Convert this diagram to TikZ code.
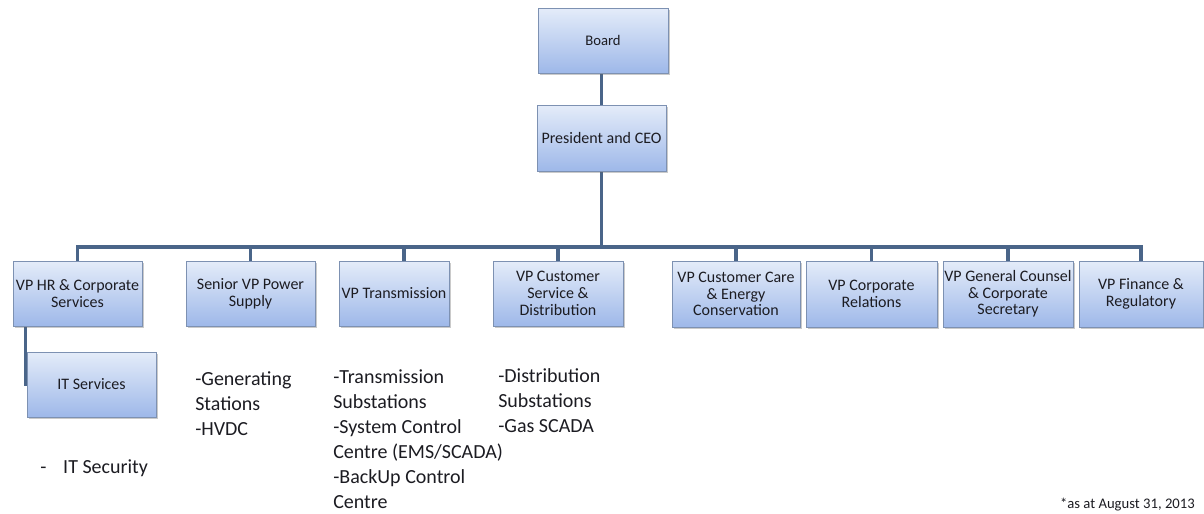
\documentclass[tikz,border=0pt]{standalone}
\usepackage{fontspec}
\setmainfont{Carlito}
\usetikzlibrary{shadows,backgrounds}
\definecolor{boxtop}{RGB}{228,236,249}
\definecolor{boxbot}{RGB}{158,184,233}
\definecolor{boxline}{RGB}{125,145,178}
\definecolor{connline}{RGB}{74,101,137}
\definecolor{txt}{RGB}{28,28,34}
\tikzset{
  orgbox/.style={draw=boxline, line width=0.7pt, top color=boxtop, bottom color=boxbot,
    align=center, inner sep=1pt, text=txt, font=\fontsize{12pt}{12.5pt}\selectfont,
    drop shadow={shadow xshift=1.2pt, shadow yshift=-1.2pt, opacity=0.35, fill=black!60}},
  conn/.style={draw=connline, line width=2.6pt, line join=miter},
  lowtext/.style={anchor=north west, inner sep=0pt, align=left, text=txt,
    font=\fontsize{15pt}{18.75pt}\selectfont},
}
\newcommand\orgbox[7][]{%
  \pgfmathsetmacro\obcx{(#3+#5)/2}%
  \pgfmathsetmacro\obcy{(#4+#6)/2}%
  \pgfmathsetmacro\obw{(#5-#3)*0.75}%
  \pgfmathsetmacro\obh{(#6-#4)*0.75}%
  \node[orgbox, minimum width=\obw pt, minimum height=\obh pt, #1] (#2) at (\obcx,\obcy) {#7};}
\begin{document}
\begin{tikzpicture}[x=0.75pt,y=-0.75pt]
\useasboundingbox (0,0) rectangle (1204,514);
\orgbox[font=\fontsize{11pt}{12pt}\selectfont]{board}{538}{8}{668}{73}{Board}
\orgbox{pres}{537}{105}{666}{171}{President and CEO}
\orgbox{b1}{13}{261}{142}{326}{VP HR \& Corporate\\Services}
\orgbox{b2}{186}{261}{315}{326}{Senior VP Power\\Supply}
\orgbox{b3}{339}{261}{449}{326}{VP Transmission}
\orgbox{b4}{493}{261}{623}{326}{VP Customer\\Service \&\\Distribution}
\orgbox{b5}{672}{261}{800}{327}{VP Customer Care\\\& Energy\\Conservation}
\orgbox{b6}{806}{261}{937}{327}{VP Corporate\\Relations}
\orgbox{b7}{943}{261}{1073}{327}{VP General Counsel\\\& Corporate\\Secretary}
\orgbox{b8}{1079}{261}{1203}{327}{VP Finance \&\\Regulatory}
\orgbox{it}{27}{352}{156}{417}{IT Services}
\coordinate (busy) at (0,247);
\coordinate (bus) at (pres.south |- busy);
\begin{scope}[on background layer]
  \draw[conn] (board.south -| pres.north) -- (pres.north);
  \draw[conn] (pres.south) -- (bus);
  \draw[conn] (bus) -| (b1.north);
  \draw[conn] (bus) -| (b2.north);
  \draw[conn] (bus) -| ([xshift=7.5pt]b3.north);
  \draw[conn] (bus) -| (b4.north);
  \draw[conn] (bus) -| (b5.north);
  \draw[conn] (bus) -| (b6.north);
  \draw[conn] (bus) -| (b7.north);
  \draw[conn] (bus) -| (b8.north);
  \draw[conn] ([xshift=9.75pt]b1.south west) |- (it.west);
\end{scope}
\node[lowtext] (gen) at (195,369) {\rule{0pt}{12pt}-Generating\\Stations\\-HVDC};
\node[lowtext] (trans) at (333,367) {\rule{0pt}{12pt}-Transmission\\Substations\\-System Control\\Centre (EMS/SCADA)\\-BackUp Control\\Centre};
\node[lowtext] (dist) at (498,366) {\rule{0pt}{12pt}-Distribution\\Substations\\-Gas SCADA};
\node[anchor=base west, inner sep=0pt, text=txt, font=\fontsize{15pt}{18pt}\selectfont] (itsec) at (40,473) {\makebox[17.25pt][l]{-}IT Security};
\node[anchor=base east, inner sep=0pt, text=txt, font=\fontsize{11pt}{13pt}\selectfont] (note) at (1195,508) {*as at August 31, 2013};
\end{tikzpicture}
\end{document}
